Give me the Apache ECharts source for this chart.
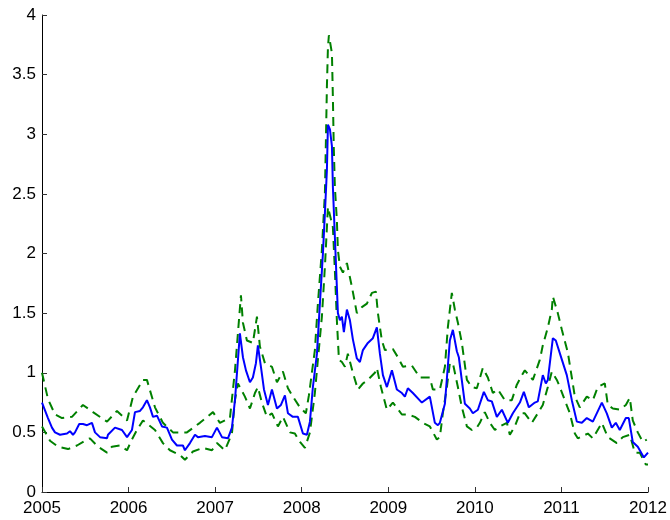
<!DOCTYPE html>
<html>
<head>
<meta charset="utf-8">
<script src="https://cdn.jsdelivr.net/npm/echarts@6/dist/echarts.min.js"></script>
<style>
  html, body { margin: 0; padding: 0; background: #ffffff; }
  #chart { width: 670px; height: 520px; }
</style>
</head>
<body>
<div id="chart"></div>
<script>
// Estimate (solid blue) with its upper and lower bands (dashed green), 2005–2012.
const xTicks = [2005, 2006, 2007, 2008, 2009, 2010, 2011, 2012];
const yTicks = [0, 0.5, 1, 1.5, 2, 2.5, 3, 3.5, 4];

const midT = [2005.000, 2005.069, 2005.115, 2005.150, 2005.208, 2005.289, 2005.323, 2005.358, 2005.381, 2005.430,
  2005.473, 2005.520, 2005.577, 2005.612, 2005.670, 2005.751, 2005.762, 2005.843, 2005.924, 2005.982,
  2006.039, 2006.074, 2006.132, 2006.166, 2006.212, 2006.247, 2006.282, 2006.328, 2006.386, 2006.443,
  2006.501, 2006.559, 2006.628, 2006.651, 2006.709, 2006.767, 2006.801, 2006.882, 2006.963, 2007.021,
  2007.079, 2007.148, 2007.194, 2007.229, 2007.286, 2007.321, 2007.356, 2007.379, 2007.402, 2007.436,
  2007.471, 2007.494, 2007.529, 2007.564, 2007.610, 2007.656, 2007.714, 2007.760, 2007.806, 2007.841,
  2007.898, 2007.956, 2008.014, 2008.060, 2008.095, 2008.129, 2008.176, 2008.210, 2008.245, 2008.268,
  2008.291, 2008.303, 2008.326, 2008.349, 2008.360, 2008.383, 2008.406, 2008.418, 2008.441, 2008.464,
  2008.487, 2008.522, 2008.557, 2008.591, 2008.637, 2008.672, 2008.707, 2008.764, 2008.822, 2008.868,
  2008.903, 2008.938, 2008.984, 2009.042, 2009.099, 2009.157, 2009.192, 2009.226, 2009.284, 2009.388,
  2009.480, 2009.538, 2009.573, 2009.596, 2009.654, 2009.711, 2009.746, 2009.792, 2009.815, 2009.885,
  2009.942, 2009.977, 2010.035, 2010.104, 2010.150, 2010.196, 2010.254, 2010.312, 2010.381, 2010.439,
  2010.520, 2010.566, 2010.624, 2010.693, 2010.727, 2010.785, 2010.820, 2010.843, 2010.901, 2010.935,
  2011.005, 2011.062, 2011.120, 2011.178, 2011.236, 2011.293, 2011.363, 2011.467, 2011.524, 2011.582,
  2011.628, 2011.674, 2011.744, 2011.778, 2011.824, 2011.882, 2011.952, 2012.000];
const midV = [0.75, 0.62, 0.54, 0.50, 0.48, 0.49, 0.51, 0.48, 0.50, 0.57,
  0.57, 0.56, 0.58, 0.50, 0.46, 0.45, 0.48, 0.54, 0.52, 0.46,
  0.52, 0.67, 0.68, 0.71, 0.77, 0.71, 0.63, 0.64, 0.55, 0.54,
  0.44, 0.39, 0.39, 0.35, 0.41, 0.48, 0.46, 0.47, 0.46, 0.54,
  0.46, 0.45, 0.54, 0.77, 1.33, 1.13, 1.02, 1.01, 0.92, 0.96,
  1.08, 1.23, 1.05, 0.86, 0.73, 0.86, 0.70, 0.73, 0.81, 0.66,
  0.63, 0.63, 0.49, 0.48, 0.59, 0.88, 1.16, 1.58, 2.00, 2.34,
  2.70, 3.08, 3.04, 2.90, 2.56, 2.14, 1.72, 1.50, 1.44, 1.47,
  1.34, 1.53, 1.44, 1.28, 1.12, 1.09, 1.19, 1.25, 1.29, 1.38,
  1.16, 0.98, 0.88, 1.02, 0.86, 0.83, 0.80, 0.87, 0.83, 0.75,
  0.80, 0.58, 0.56, 0.58, 0.74, 1.27, 1.36, 1.18, 1.13, 0.74,
  0.70, 0.66, 0.69, 0.84, 0.77, 0.76, 0.63, 0.69, 0.58, 0.66,
  0.75, 0.84, 0.71, 0.75, 0.76, 0.98, 0.91, 0.94, 1.29, 1.27,
  1.11, 0.98, 0.77, 0.59, 0.58, 0.62, 0.59, 0.75, 0.66, 0.54,
  0.58, 0.52, 0.62, 0.62, 0.42, 0.38, 0.29, 0.33];

const upT = [2005.000, 2005.069, 2005.150, 2005.231, 2005.346, 2005.473, 2005.589, 2005.751, 2005.866, 2005.982,
  2006.051, 2006.166, 2006.212, 2006.305, 2006.397, 2006.513, 2006.674, 2006.824, 2006.975, 2007.055,
  2007.171, 2007.229, 2007.263, 2007.298, 2007.321, 2007.367, 2007.436, 2007.483, 2007.517, 2007.575,
  2007.656, 2007.714, 2007.783, 2007.841, 2007.898, 2007.979, 2008.048, 2008.083, 2008.152, 2008.187,
  2008.233, 2008.268, 2008.279, 2008.291, 2008.303, 2008.314, 2008.349, 2008.360, 2008.370, 2008.383,
  2008.406, 2008.418, 2008.441, 2008.476, 2008.522, 2008.580, 2008.637, 2008.695, 2008.753, 2008.811,
  2008.857, 2008.880, 2008.926, 2008.961, 2009.018, 2009.053, 2009.111, 2009.169, 2009.273, 2009.365,
  2009.480, 2009.515, 2009.596, 2009.654, 2009.688, 2009.734, 2009.769, 2009.804, 2009.850, 2009.908,
  2009.965, 2010.023, 2010.092, 2010.150, 2010.208, 2010.266, 2010.346, 2010.427, 2010.485, 2010.543,
  2010.577, 2010.670, 2010.751, 2010.785, 2010.843, 2010.889, 2010.901, 2010.958, 2011.005, 2011.074,
  2011.120, 2011.155, 2011.212, 2011.293, 2011.363, 2011.420, 2011.501, 2011.536, 2011.594, 2011.674,
  2011.744, 2011.790, 2011.824, 2011.882, 2011.940, 2011.986];
const upV = [1.00, 0.78, 0.65, 0.62, 0.63, 0.73, 0.67, 0.59, 0.68, 0.60,
  0.80, 0.94, 0.94, 0.71, 0.58, 0.50, 0.50, 0.58, 0.67, 0.58,
  0.62, 1.02, 1.33, 1.65, 1.42, 1.27, 1.25, 1.47, 1.22, 1.08,
  1.05, 0.92, 1.01, 0.87, 0.80, 0.71, 0.66, 0.81, 1.19, 1.58,
  2.03, 2.51, 2.93, 3.40, 3.73, 3.83, 3.68, 3.31, 2.90, 2.56,
  2.28, 2.03, 1.89, 1.84, 1.92, 1.72, 1.50, 1.55, 1.58, 1.67,
  1.68, 1.50, 1.27, 1.19, 1.20, 1.20, 1.13, 1.05, 1.06, 0.96,
  0.96, 0.86, 0.86, 1.05, 1.38, 1.67, 1.53, 1.42, 1.25, 0.94,
  0.88, 0.87, 1.04, 0.96, 0.83, 0.86, 0.77, 0.77, 0.90, 0.98,
  1.02, 0.94, 1.11, 1.23, 1.38, 1.53, 1.64, 1.50, 1.36, 1.17,
  0.96, 0.80, 0.71, 0.80, 0.77, 0.88, 0.91, 0.73, 0.70, 0.69,
  0.73, 0.79, 0.60, 0.50, 0.42, 0.44];

const loT = [2005.000, 2005.092, 2005.185, 2005.300, 2005.404, 2005.520, 2005.554, 2005.647, 2005.751, 2005.808,
  2005.901, 2005.982, 2006.039, 2006.097, 2006.166, 2006.189, 2006.305, 2006.397, 2006.478, 2006.594,
  2006.651, 2006.744, 2006.859, 2006.963, 2007.021, 2007.113, 2007.136, 2007.194, 2007.229, 2007.263,
  2007.344, 2007.402, 2007.460, 2007.494, 2007.540, 2007.598, 2007.656, 2007.725, 2007.783, 2007.864,
  2007.921, 2007.980, 2008.037, 2008.095, 2008.152, 2008.187, 2008.233, 2008.268, 2008.303, 2008.326,
  2008.360, 2008.383, 2008.406, 2008.430, 2008.464, 2008.499, 2008.533, 2008.591, 2008.649, 2008.707,
  2008.764, 2008.845, 2008.868, 2008.915, 2008.984, 2009.053, 2009.157, 2009.226, 2009.307, 2009.400,
  2009.480, 2009.561, 2009.596, 2009.630, 2009.677, 2009.711, 2009.746, 2009.804, 2009.850, 2009.908,
  2009.965, 2010.023, 2010.058, 2010.115, 2010.173, 2010.231, 2010.289, 2010.370, 2010.404, 2010.462,
  2010.520, 2010.577, 2010.658, 2010.727, 2010.785, 2010.843, 2010.889, 2010.947, 2010.982, 2011.039,
  2011.097, 2011.155, 2011.189, 2011.305, 2011.363, 2011.467, 2011.536, 2011.640, 2011.709, 2011.790,
  2011.848, 2011.905, 2011.975, 2012.000];
const loV = [0.55, 0.43, 0.38, 0.36, 0.39, 0.44, 0.45, 0.38, 0.33, 0.38,
  0.39, 0.35, 0.44, 0.52, 0.60, 0.60, 0.52, 0.41, 0.35, 0.31,
  0.27, 0.34, 0.37, 0.35, 0.41, 0.35, 0.34, 0.49, 0.77, 0.91,
  0.80, 0.70, 0.83, 0.88, 0.75, 0.63, 0.66, 0.55, 0.63, 0.50,
  0.49, 0.42, 0.37, 0.50, 0.83, 1.11, 1.47, 1.89, 2.39, 2.40,
  2.22, 1.86, 1.44, 1.11, 1.09, 1.05, 1.16, 1.00, 0.86, 0.91,
  0.94, 1.00, 1.04, 0.88, 0.69, 0.75, 0.65, 0.65, 0.63, 0.58,
  0.55, 0.44, 0.46, 0.66, 0.88, 1.08, 1.08, 0.88, 0.71, 0.55,
  0.52, 0.54, 0.58, 0.67, 0.58, 0.52, 0.55, 0.58, 0.48, 0.55,
  0.66, 0.66, 0.58, 0.66, 0.73, 0.88, 1.01, 0.94, 0.88, 0.77,
  0.66, 0.49, 0.45, 0.49, 0.45, 0.58, 0.46, 0.41, 0.46, 0.48,
  0.33, 0.33, 0.23, 0.23];

const zip = (t, v) => t.map((x, i) => [x, v[i]]);

const chart = echarts.init(document.getElementById('chart'), null, { renderer: 'canvas' });
const labelFont = { color: '#000000', fontSize: 17, fontFamily: 'Liberation Sans, Arial, sans-serif' };
const greenBand = { color: '#008000', width: 2, type: [9, 6] };

chart.setOption({
  animation: false,
  backgroundColor: '#ffffff',
  grid: { left: 42, right: 22, top: 15, bottom: 28, containLabel: false },
  xAxis: {
    type: 'value',
    min: xTicks[0],
    max: xTicks[xTicks.length - 1],
    interval: 1,
    axisLine: { show: true, lineStyle: { color: '#000000', width: 1 } },
    axisTick: { show: true, inside: true, length: 5, lineStyle: { color: '#333333' } },
    axisLabel: { ...labelFont, margin: 8, formatter: v => String(Math.round(v)) },
    splitLine: { show: false }
  },
  yAxis: {
    type: 'value',
    min: yTicks[0],
    max: yTicks[yTicks.length - 1],
    interval: 0.5,
    axisLine: { show: true, lineStyle: { color: '#000000', width: 1 } },
    axisTick: { show: true, inside: true, length: 5, lineStyle: { color: '#333333' } },
    axisLabel: { ...labelFont, margin: 6, formatter: v => String(v) },
    splitLine: { show: false }
  },
  series: [
    {
      name: 'upper', type: 'line', data: zip(upT, upV), showSymbol: false,
      lineStyle: greenBand, z: 2
    },
    {
      name: 'lower', type: 'line', data: zip(loT, loV), showSymbol: false,
      lineStyle: greenBand, z: 2
    },
    {
      name: 'estimate', type: 'line', data: zip(midT, midV), showSymbol: false,
      lineStyle: { color: '#0000ff', width: 2 }, z: 3
    }
  ]
});
</script>
</body>
</html>
